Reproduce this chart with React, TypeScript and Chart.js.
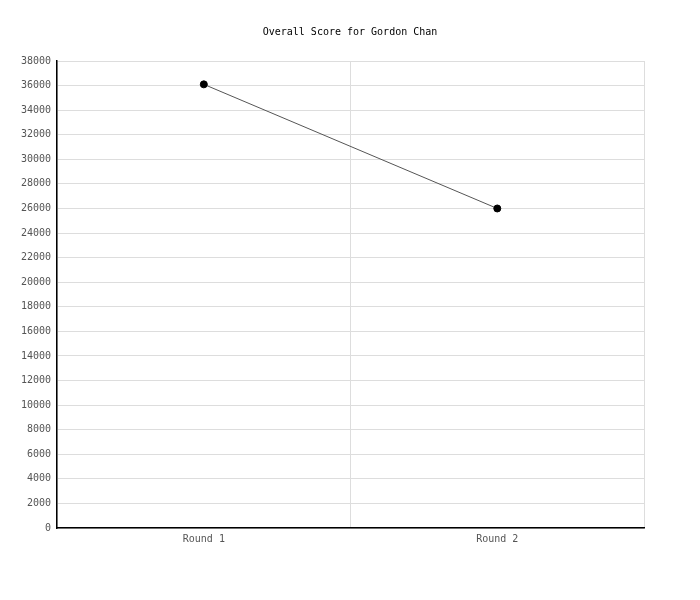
import React, { useEffect, useRef } from 'react';
import { Chart, registerables } from 'chart.js';

Chart.register(...registerables);

const rounds = ['Round 1', 'Round 2'];
const scores = [36100, 26000];
const yMax = 38000;
const yStep = 2000;

const FONT = '"DejaVu Sans Mono", "Liberation Mono", monospace';

const App = () => {
   const canvasRef = useRef<HTMLCanvasElement | null>(null);

   useEffect(() => {
      if (!canvasRef.current) return;
      const chart = new Chart(canvasRef.current, {
         type: 'line',
         data: {
            labels: rounds,
            datasets: [
               {
                  label: 'Overall Score',
                  data: scores,
                  borderColor: '#555555',
                  borderWidth: 1,
                  backgroundColor: '#000000',
                  pointBackgroundColor: '#000000',
                  pointBorderColor: '#000000',
                  pointRadius: 3.5,
                  tension: 0,
                  fill: false,
               },
            ],
         },
         options: {
            animation: false,
            responsive: true,
            maintainAspectRatio: false,
            layout: {
               padding: { left: 7, right: 7, top: 0, bottom: 42 },
            },
            plugins: {
               legend: { display: false },
               tooltip: { enabled: false },
               title: {
                  display: true,
                  text: 'Overall Score for Gordon Chan',
                  color: '#000000',
                  font: { family: FONT, size: 10, weight: 'normal' },
                  padding: { top: 18, bottom: 23 },
               },
            },
            scales: {
               x: {
                  type: 'category',
                  offset: true,
                  grid: {
                     offset: true,
                     color: '#dddddd',
                     drawTicks: false,
                  },
                  border: { color: '#000000', width: 1.5 },
                  ticks: {
                     color: '#555555',
                     font: { family: FONT, size: 10 },
                     padding: 5,
                  },
               },
               y: {
                  min: 0,
                  max: yMax,
                  grid: {
                     color: '#dddddd',
                     drawTicks: false,
                  },
                  border: { color: '#000000', width: 1.5 },
                  ticks: {
                     stepSize: yStep,
                     color: '#555555',
                     font: { family: FONT, size: 10 },
                     padding: 6,
                     callback: (value: any) => String(value),
                  },
               },
               // empty right-hand spacer so the title stays centred on the page
               spacer: {
                  type: 'linear',
                  position: 'right',
                  min: 0,
                  max: yMax,
                  grid: { display: false },
                  border: { display: false },
                  ticks: { display: false },
                  afterFit: (scale: any) => {
                     scale.width = 41;
                  },
               },
            },
         },
      });
      return () => {
         chart.destroy();
      };
   }, []);

   return (
      <div style={{ width: 684, height: 584, position: 'relative' }}>
         <canvas ref={canvasRef} />
      </div>
   );
};

export default App;
